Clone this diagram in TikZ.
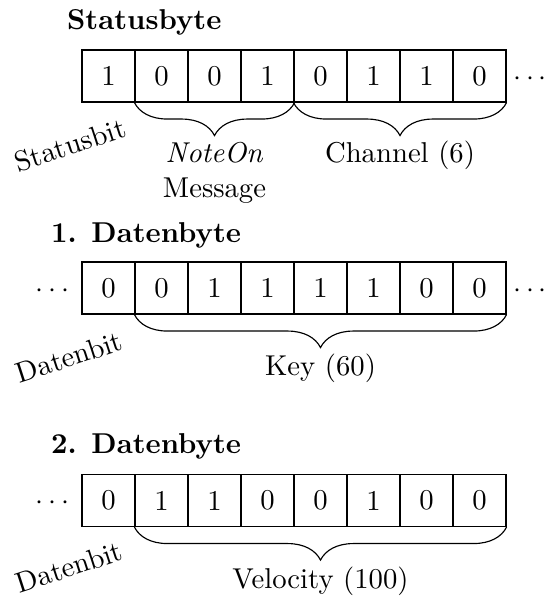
\documentclass[tikz,border=0pt]{standalone}
\usetikzlibrary{decorations.pathreplacing,calc}
\begin{document}
\begin{tikzpicture}[x=0.3484pt,y=-0.3484pt,
  cell/.style={draw, inner sep=0pt, minimum width=18.47pt, minimum height=18.1pt, anchor=center},
  bytetitle/.style={anchor=base west, font=\bfseries},
  bracebelow/.style={draw, decorate, decoration={brace, mirror, amplitude=11.5pt}},
  bitlabel/.style={rotate=18, anchor=center},
  fieldlabel/.style={anchor=base, align=center},
  moreright/.style={anchor=base west, inner sep=0pt, xshift=2.2pt},
  moreleft/.style={anchor=base east, inner sep=0pt, xshift=-4pt}]
\useasboundingbox (0,0) rectangle (545,596);

% cell width and left edge of the byte rows
\def\cw{53}
\def\xo{82}

% --- Statusbyte ---
\node[bytetitle] (t1) at (57,30) {Statusbyte};
\foreach \b [count=\i] in {1,0,0,1,0,1,1,0}
  \node[cell] (s\i) at ({\xo+\cw*(\i-0.5)},76) {\b};
\node[moreright] (sr) at (s8.base -| s8.east) {$\cdots$};
\draw[bracebelow] (s2.south west) -- (s4.south east);
\draw[bracebelow] (s5.south west) -- (s8.south east);
\coordinate (sm1) at ($(s2.south west)!0.5!(s4.south east)$);
\coordinate (sm2) at ($(s5.south west)!0.5!(s8.south east)$);
\path (sm1) ++(0,60) node[fieldlabel] (l1) {\textit{NoteOn}};
\path (sm1) ++(0,95) node[fieldlabel] (l1b) {Message};
\path (sm2) ++(0,60) node[fieldlabel] (l2) {Channel (6)};
\node[bitlabel] (sb) at (70,145) {Statusbit};

% --- 1. Datenbyte ---
\node[bytetitle] (t2) at (41,243) {1. Datenbyte};
\foreach \b [count=\i] in {0,0,1,1,1,1,0,0}
  \node[cell] (d\i) at ({\xo+\cw*(\i-0.5)},288) {\b};
\node[moreright] (dr) at (d8.base -| d8.east) {$\cdots$};
\node[moreleft] (dl) at (d1.base -| d1.west) {$\cdots$};
\draw[bracebelow] (d2.south west) -- (d8.south east);
\coordinate (dm) at ($(d2.south west)!0.5!(d8.south east)$);
\path (dm) ++(0,61) node[fieldlabel] (l3) {Key (60)};
\node[bitlabel] (db1) at (69,357) {Datenbit};

% --- 2. Datenbyte ---
\node[bytetitle] (t3) at (41,453) {2. Datenbyte};
\foreach \b [count=\i] in {0,1,1,0,0,1,0,0}
  \node[cell] (v\i) at ({\xo+\cw*(\i-0.5)},500.5) {\b};
\node[moreleft] (vl) at (v1.base -| v1.west) {$\cdots$};
\draw[bracebelow] (v2.south west) -- (v8.south east);
\coordinate (vm) at ($(v2.south west)!0.5!(v8.south east)$);
\path (vm) ++(0,61) node[fieldlabel] (l4) {Velocity (100)};
\node[bitlabel] (db2) at (69,567) {Datenbit};
\end{tikzpicture}
\end{document}
